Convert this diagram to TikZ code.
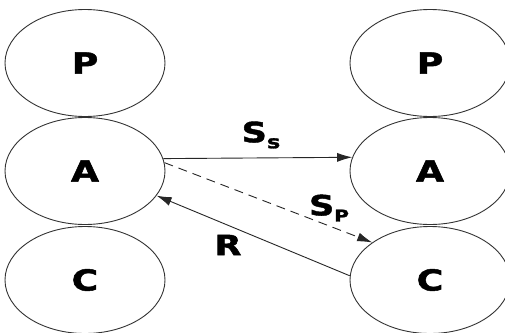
\documentclass[tikz,border=0pt]{standalone}
\usepackage{fontspec}
\setmainfont{DejaVu Sans}
\newfontfamily\heavy[FakeBold=1.5]{DejaVu Sans Bold}
\usetikzlibrary{shapes.geometric,arrows.meta}
\begin{document}
\begin{tikzpicture}[x=1pt,y=-1pt,
  layer/.style={draw=black!80, line width=0.9pt, ellipse, minimum width=160pt, minimum height=107pt, inner sep=0pt,
    font=\fontsize{29}{29}\selectfont\heavy},
  lbl/.style={font=\fontsize{28}{28}\selectfont\heavy, inner sep=0pt},
  conn/.style={line width=0.9pt, black!85, -{Latex[length=15pt,width=9pt]}}]
\useasboundingbox (0,0) rectangle (505,332);
\fill[white] (0,0) rectangle (505,332);
\node[layer] (lP) at (85,63) {\scalebox{1.25}[1]{P}};
\node[layer] (lA) at (85,171) {\scalebox{1.25}[1]{A}};
\node[layer] (lC) at (85,280) {\scalebox{1.25}[1]{C}};
\node[layer] (rP) at (430,63) {\scalebox{1.25}[1]{P}};
\node[layer] (rA) at (430,171) {\scalebox{1.25}[1]{A}};
\node[layer] (rC) at (430,280) {\scalebox{1.25}[1]{C}};
\draw[conn] (lA.9) -- (rA.170);
\draw[conn, dash pattern=on 9pt off 6pt] (lA.6) -- (rC.147);
\draw[conn] (rC.177) -- (lA.-19);
\node[lbl] (ss) at (261,135) {\scalebox{1.25}[1]{S\raisebox{-6pt}{\fontsize{18}{18}\selectfont s}}};
\node[lbl] (sp) at (329,208) {\scalebox{1.25}[1]{S\raisebox{-6pt}{\fontsize{16}{16}\selectfont P}}};
\node[lbl] (r) at (228,245) {\scalebox{1.25}[1]{R}};
\end{tikzpicture}
\end{document}
